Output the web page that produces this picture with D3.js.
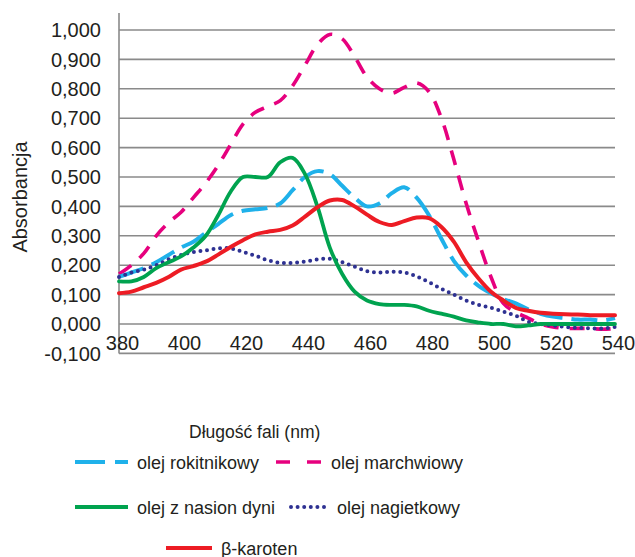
<!DOCTYPE html>
<html>

<head>
  <meta charset="utf-8">
  <script src="https://d3js.org/d3.v7.min.js"></script>
  <style>
    body {
      margin: 0;
      background: #ffffff;
      font-family: "Liberation Sans", Arial, sans-serif;
    }

    .tick-label {
      font-size: 20px;
      fill: #231f20;
    }

    .axis-title {
      font-size: 17.5px;
      fill: #231f20;
    }

    .legend-label {
      font-size: 18px;
      fill: #231f20;
    }
  </style>
</head>

<body>
  <svg id="chart"></svg>

  <script>
    // Wavelengths (nm), read every 4 nm
    const wavelengths = [
      380, 384, 388, 392, 396, 400, 404, 408, 412, 416, 420, 424, 428, 432,
      436, 440, 444, 448, 452, 456, 460, 464, 468, 472, 476, 480, 484, 488,
      492, 496, 500, 504, 508, 512, 516, 520, 524, 528, 532, 536, 540
    ];

    const rokitnikowy = [
      0.16, 0.175, 0.19, 0.21, 0.235, 0.26, 0.28, 0.31, 0.34, 0.37, 0.385,
      0.39, 0.395, 0.41, 0.455, 0.5, 0.52, 0.51, 0.47, 0.43, 0.4, 0.41, 0.445,
      0.465, 0.43, 0.37, 0.29, 0.215, 0.165, 0.13, 0.105, 0.085, 0.07, 0.05,
      0.035, 0.025, 0.02, 0.015, 0.015, 0.012, 0.02
    ];

    const marchwiowy = [
      0.17, 0.2, 0.24, 0.3, 0.345, 0.38, 0.43, 0.48, 0.54, 0.61, 0.68, 0.72,
      0.74, 0.76, 0.81, 0.88, 0.95, 0.985, 0.97, 0.91, 0.84, 0.8, 0.785, 0.805,
      0.82, 0.79, 0.7, 0.56, 0.41, 0.28, 0.16, 0.07, 0.04, 0.02, 0.0, -0.01,
      -0.015, -0.015, -0.015, -0.018, -0.015
    ];

    const dyni = [
      0.145, 0.145, 0.16, 0.19, 0.21, 0.23, 0.26, 0.3, 0.37, 0.45, 0.5, 0.5,
      0.5, 0.55, 0.565, 0.51, 0.4, 0.26, 0.17, 0.11, 0.08, 0.068, 0.065, 0.065,
      0.06, 0.045, 0.035, 0.025, 0.012, 0.005, 0.0, 0.0, -0.008, -0.005, 0.0,
      0.0, 0.0, 0.0, 0.0, 0.0, 0.0
    ];

    const nagietkowy = [
      0.16, 0.175, 0.185, 0.2, 0.22, 0.235, 0.245, 0.25, 0.257, 0.257, 0.245,
      0.232, 0.217, 0.208, 0.208, 0.212, 0.22, 0.222, 0.21, 0.195, 0.18,
      0.175, 0.178, 0.175, 0.162, 0.142, 0.12, 0.1, 0.08, 0.065, 0.055, 0.042,
      0.028, 0.008, 0.0, -0.005, -0.01, -0.013, -0.015, -0.015, -0.01
    ];

    const karoten = [
      0.105, 0.11, 0.125, 0.14, 0.16, 0.185, 0.197, 0.212, 0.236, 0.262, 0.285,
      0.305, 0.314, 0.32, 0.335, 0.365, 0.397, 0.42, 0.422, 0.4, 0.372, 0.347,
      0.337, 0.35, 0.362, 0.36, 0.33, 0.28, 0.21, 0.155, 0.11, 0.08, 0.055,
      0.045, 0.038, 0.035, 0.033, 0.032, 0.03, 0.03, 0.03
    ];

    const xTicks = [380, 400, 420, 440, 460, 480, 500, 520, 540];
    const yTicks = [-0.1, 0, 0.1, 0.2, 0.3, 0.4, 0.5, 0.6, 0.7, 0.8, 0.9, 1.0];

    const width = 635;
    const height = 557;

    const svg = d3.select("#chart")
      .attr("width", width)
      .attr("height", height);

    // Scales
    const x = d3.scaleLinear().domain([380, 540]).range([119, 615]);
    const y = d3.scaleLinear().domain([0, 1]).range([324, 30]);

    // Horizontal gridlines
    svg.append("g")
      .selectAll("line")
      .data(yTicks)
      .join("line")
      .attr("x1", x(380))
      .attr("x2", x(540))
      .attr("y1", d => y(d))
      .attr("y2", d => y(d))
      .attr("stroke", "#8a8a8a")
      .attr("stroke-width", 1.6);

    // Vertical axis line
    svg.append("line")
      .attr("x1", x(380))
      .attr("x2", x(380))
      .attr("y1", 13)
      .attr("y2", y(-0.1))
      .attr("stroke", "#8a8a8a")
      .attr("stroke-width", 1.6);

    // Y tick labels
    const fmtY = d => d3.format(".3f")(d).replace(".", ",").replace("−", "-");
    svg.append("g")
      .selectAll("text")
      .data(yTicks)
      .join("text")
      .attr("class", "tick-label")
      .attr("x", 101)
      .attr("y", d => y(d))
      .attr("dy", "0.36em")
      .attr("text-anchor", "end")
      .text(d => (d >= 1 ? "1,000" : fmtY(d)));

    // X tick labels (between 0 and -0,100 lines)
    svg.append("g")
      .selectAll("text")
      .data(xTicks)
      .join("text")
      .attr("class", "tick-label")
      .attr("x", d => x(d) + 3.5)
      .attr("y", 350)
      .attr("text-anchor", "middle")
      .text(d => d);

    // Axis titles
    svg.append("text")
      .attr("class", "tick-label")
      .attr("transform", "translate(27,197) rotate(-90)")
      .attr("text-anchor", "middle")
      .text("Absorbancja");

    svg.append("text")
      .attr("class", "axis-title")
      .attr("x", 189)
      .attr("y", 438)
      .text("Długość fali (nm)");

    // Series
    const series = [
      { name: "olej rokitnikowy", values: rokitnikowy, color: "#1fb1ea", dash: "26,9", cap: "butt", w: 4 },
      { name: "olej marchwiowy", values: marchwiowy, color: "#e6007e", dash: "15,11", cap: "butt", w: 3.6 },
      { name: "olej z nasion dyni", values: dyni, color: "#00a34f", dash: null, cap: "round", w: 3.8 },
      { name: "olej nagietkowy", values: nagietkowy, color: "#2e3192", dash: "0,6.6", cap: "round", w: 4 },
      { name: "β-karoten", values: karoten, color: "#ed1c24", dash: null, cap: "round", w: 4 }
    ];

    const line = d3.line()
      .x(d => x(d[0]))
      .y(d => y(d[1]))
      .curve(d3.curveCatmullRom.alpha(0.5));

    const drawOrder = [1, 0, 3, 2, 4];
    drawOrder.forEach(i => {
      const s = series[i];
      svg.append("path")
        .datum(wavelengths.map((w, j) => [w, s.values[j]]))
        .attr("d", line)
        .attr("fill", "none")
        .attr("stroke", s.color)
        .attr("stroke-width", s.w)
        .attr("stroke-linecap", s.cap)
        .attr("stroke-linejoin", "round")
        .attr("stroke-dasharray", s.dash);
    });

    // Legend
    const legendItems = [
      { s: 0, x1: 75, x2: 128, tx: 137, y: 462 },
      { s: 1, x1: 276, x2: 321, tx: 331, y: 462 },
      { s: 2, x1: 75, x2: 128, tx: 137, y: 507 },
      { s: 3, x1: 291, x2: 329, tx: 337, y: 507 },
      { s: 4, x1: 166, x2: 212, tx: 221, y: 548 }
    ];

    const legend = svg.append("g");
    legendItems.forEach(item => {
      const s = series[item.s];
      let dash = s.dash;
      if (item.s === 0) dash = "30,10";
      if (item.s === 1) dash = "14,17";
      legend.append("line")
        .attr("x1", item.x1)
        .attr("x2", item.x2)
        .attr("y1", item.y)
        .attr("y2", item.y)
        .attr("stroke", s.color)
        .attr("stroke-width", s.w)
        .attr("stroke-linecap", s.cap === "round" && !s.dash ? "butt" : s.cap)
        .attr("stroke-dasharray", dash);
      legend.append("text")
        .attr("class", "legend-label")
        .attr("x", item.tx)
        .attr("y", item.y + 6.5)
        .text(s.name);
    });
  </script>
</body>

</html>
